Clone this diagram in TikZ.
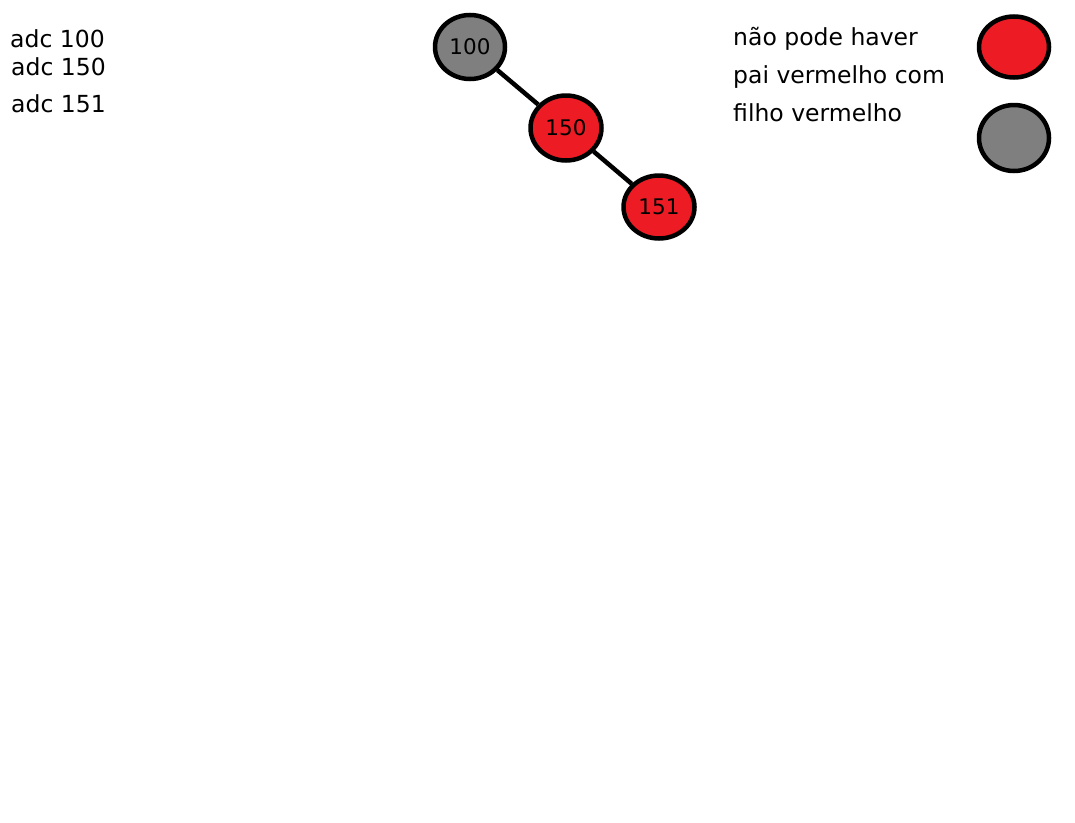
\documentclass[tikz,border=0pt]{standalone}
\usepackage{fontspec}
\setmainfont{DejaVu Sans}
\usetikzlibrary{shapes.geometric}
\definecolor{paintred}{RGB}{237, 28, 36}
\definecolor{paintgray}{RGB}{127, 127, 127}
\begin{document}
\begin{tikzpicture}[x=1pt, y=-1pt,
	rbnode/.style={ellipse, draw, line width=4.5pt, inner sep=0pt, minimum width=70pt, minimum height=65pt, font=\fontsize{21.5}{21.5}\selectfont},
	rednode/.style={rbnode, fill=paintred},
	graynode/.style={rbnode, fill=paintgray},
	note/.style={anchor=west, inner sep=0pt, font=\fontsize{23.5}{23.5}\selectfont}]
	\useasboundingbox (0,0) rectangle (1075,822);
	% inserted keys
	\node[note] (k100) at (10,39) {adc 100};
	\node[note] (k150) at (11,67) {adc 150};
	\node[note] (k151) at (11,104) {adc 151};
	% tree
	\node[graynode, minimum height=64pt] (n100) at (470,47) {100};
	\node[rednode, minimum width=71pt] (n150) at (566,128) {150};
	\node[rednode, minimum width=71pt, minimum height=63pt] (n151) at (659,207) {151};
	\draw[line width=4.5pt] (n100) -- (n150);
	\draw[line width=4.5pt] (n150) -- (n151);
	% rule and legend
	\node[note, align=left, font=\fontsize{23.5}{38}\selectfont] (rule) at (733,75) {não pode haver\\pai vermelho com\\filho vermelho};
	\node[rednode, minimum height=61pt] (lred) at (1014,47) {};
	\node[graynode, minimum height=66pt] (lgray) at (1014,138) {};
\end{tikzpicture}
\end{document}
